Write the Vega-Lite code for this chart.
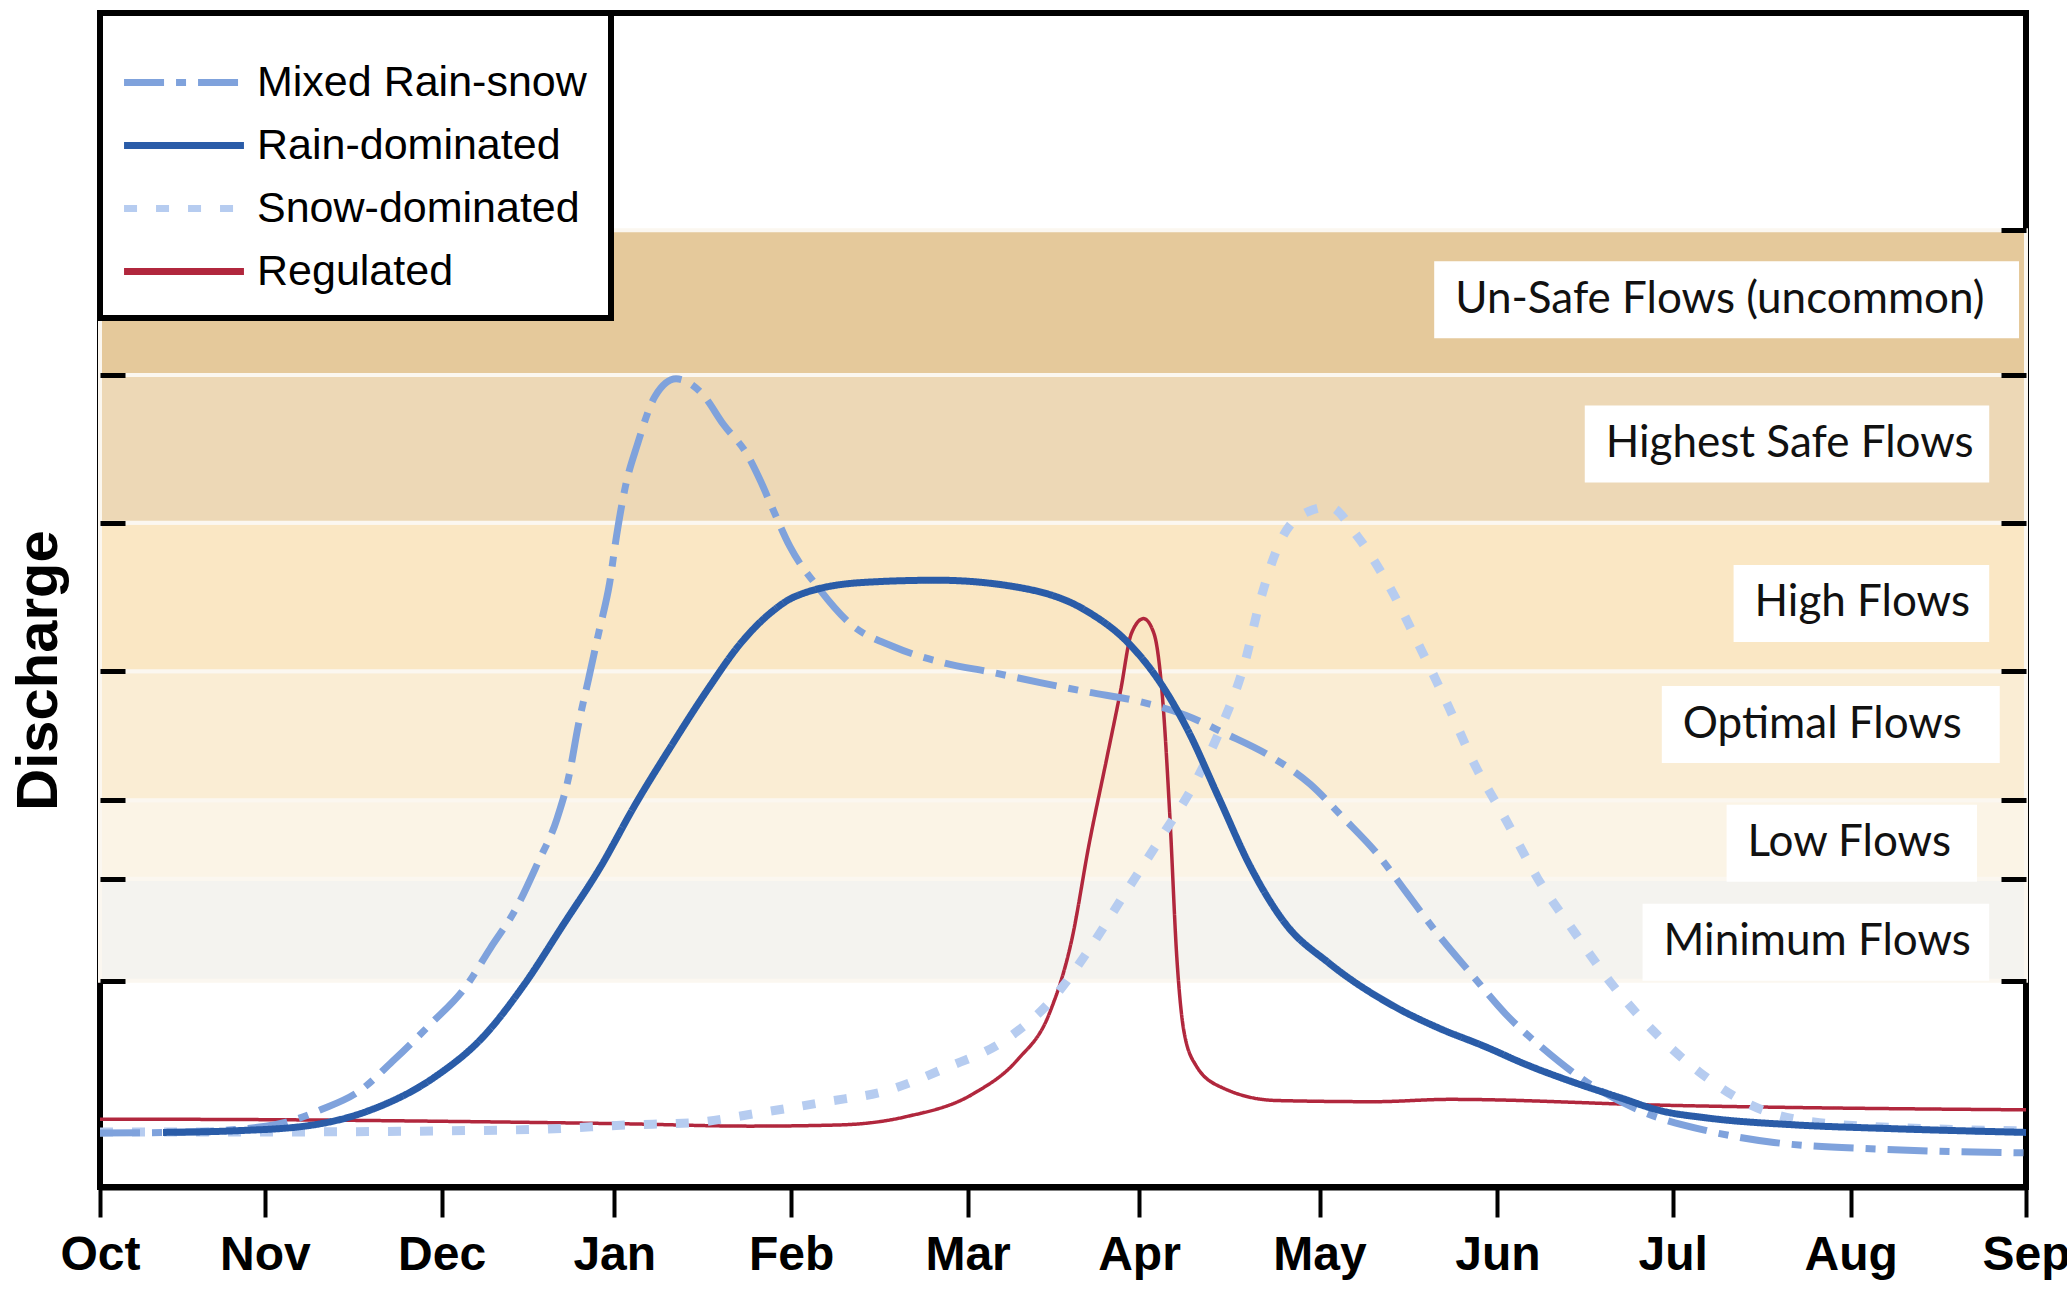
{
  "$schema": "https://vega.github.io/schema/vega-lite/v6.json",
  "width": 1926,
  "height": 1174,
  "autosize": {"type": "none"},
  "padding": {"left": 100, "top": 13, "right": 41, "bottom": 106},
  "background": "white",
  "config": {
    "view": {"stroke": "black", "strokeWidth": 6, "fill": "white"},
    "font": "Liberation Sans",
    "legend": {
      "orient": "none",
      "legendX": 0,
      "legendY": 0,
      "zindex": 3,
      "titleFontSize": 10,
      "titlePadding": 14,
      "symbolType": "M-1.48,0L6.79,0",
      "symbolSize": 841,
      "symbolStrokeWidth": 7,
      "labelFont": "Liberation Sans",
      "labelFontSize": 43,
      "labelColor": "black",
      "labelLimit": 700,
      "labelOffset": 90,
      "rowPadding": 19,
      "padding": 24,
      "strokeColor": "black",
      "strokeWidth": 6,
      "fillColor": "white",
      "cornerRadius": 0
    }
  },
  "datasets": {
    "bands": [
      {"band": "Minimum Flows", "lo": 17.29, "hi": 26.06},
      {"band": "Low Flows", "lo": 26.06, "hi": 32.79},
      {"band": "Optimal Flows", "lo": 32.79, "hi": 43.87},
      {"band": "High Flows", "lo": 43.87, "hi": 56.64},
      {"band": "Highest Safe Flows", "lo": 56.64, "hi": 69.33},
      {"band": "Un-Safe Flows (uncommon)", "lo": 69.33, "hi": 81.76}
    ],
    "labels": [
      {"label": "Un-Safe Flows (uncommon)", "mid": 75.8, "from": 7.62, "to": 10.96},
      {"label": "Highest Safe Flows", "mid": 63.4, "from": 8.48, "to": 10.79},
      {"label": "High Flows", "mid": 49.7, "from": 9.33, "to": 10.79},
      {"label": "Optimal Flows", "mid": 39.3, "from": 8.92, "to": 10.85},
      {"label": "Low Flows", "mid": 29.1, "from": 9.29, "to": 10.72},
      {"label": "Minimum Flows", "mid": 20.6, "from": 8.81, "to": 10.79}
    ],
    "flows": [
      {"series": "Regulated", "month": 0, "discharge": 5.4},
      {"series": "Regulated", "month": 1.0, "discharge": 5.35},
      {"series": "Regulated", "month": 2.04, "discharge": 5.2},
      {"series": "Regulated", "month": 3.0, "discharge": 5.0},
      {"series": "Regulated", "month": 3.71, "discharge": 4.8},
      {"series": "Regulated", "month": 4.22, "discharge": 4.9},
      {"series": "Regulated", "month": 4.6, "discharge": 5.6},
      {"series": "Regulated", "month": 4.99, "discharge": 7.6},
      {"series": "Regulated", "month": 5.24, "discharge": 10.5},
      {"series": "Regulated", "month": 5.42, "discharge": 14.4},
      {"series": "Regulated", "month": 5.55, "discharge": 20.8},
      {"series": "Regulated", "month": 5.65, "discharge": 29.1},
      {"series": "Regulated", "month": 5.75, "discharge": 36.4},
      {"series": "Regulated", "month": 5.83, "discharge": 42.3},
      {"series": "Regulated", "month": 5.89, "discharge": 47.1},
      {"series": "Regulated", "month": 5.96, "discharge": 48.4},
      {"series": "Regulated", "month": 6.02, "discharge": 47.1},
      {"series": "Regulated", "month": 6.07, "discharge": 41.3},
      {"series": "Regulated", "month": 6.11, "discharge": 31.5},
      {"series": "Regulated", "month": 6.15, "discharge": 19.3},
      {"series": "Regulated", "month": 6.19, "discharge": 13.0},
      {"series": "Regulated", "month": 6.26, "discharge": 10.0},
      {"series": "Regulated", "month": 6.41, "discharge": 8.1},
      {"series": "Regulated", "month": 6.72, "discharge": 7.0},
      {"series": "Regulated", "month": 7.28, "discharge": 6.9},
      {"series": "Regulated", "month": 7.71, "discharge": 7.1},
      {"series": "Regulated", "month": 8.92, "discharge": 6.6},
      {"series": "Regulated", "month": 11, "discharge": 6.2},
      {"series": "Snow-dominated", "month": 0, "discharge": 4.3},
      {"series": "Snow-dominated", "month": 1.0, "discharge": 4.3},
      {"series": "Snow-dominated", "month": 2.0, "discharge": 4.4},
      {"series": "Snow-dominated", "month": 2.55, "discharge": 4.55},
      {"series": "Snow-dominated", "month": 3.01, "discharge": 4.9},
      {"series": "Snow-dominated", "month": 3.39, "discharge": 5.1},
      {"series": "Snow-dominated", "month": 3.75, "discharge": 5.9},
      {"series": "Snow-dominated", "month": 4.15, "discharge": 6.9},
      {"series": "Snow-dominated", "month": 4.48, "discharge": 7.8},
      {"series": "Snow-dominated", "month": 4.83, "discharge": 9.8},
      {"series": "Snow-dominated", "month": 5.17, "discharge": 12.2},
      {"series": "Snow-dominated", "month": 5.45, "discharge": 15.9},
      {"series": "Snow-dominated", "month": 5.65, "discharge": 20.0},
      {"series": "Snow-dominated", "month": 5.85, "discharge": 24.7},
      {"series": "Snow-dominated", "month": 6.06, "discharge": 29.6},
      {"series": "Snow-dominated", "month": 6.26, "discharge": 34.5},
      {"series": "Snow-dominated", "month": 6.41, "discharge": 39.3},
      {"series": "Snow-dominated", "month": 6.54, "discharge": 44.7},
      {"series": "Snow-dominated", "month": 6.62, "discharge": 49.6},
      {"series": "Snow-dominated", "month": 6.74, "discharge": 55.0},
      {"series": "Snow-dominated", "month": 6.9, "discharge": 57.6},
      {"series": "Snow-dominated", "month": 7.02, "discharge": 58.0},
      {"series": "Snow-dominated", "month": 7.18, "discharge": 55.5},
      {"series": "Snow-dominated", "month": 7.37, "discharge": 51.0},
      {"series": "Snow-dominated", "month": 7.54, "discharge": 45.9},
      {"series": "Snow-dominated", "month": 7.7, "discharge": 40.9},
      {"series": "Snow-dominated", "month": 7.85, "discharge": 35.9},
      {"series": "Snow-dominated", "month": 8.03, "discharge": 31.1},
      {"series": "Snow-dominated", "month": 8.21, "discharge": 26.1},
      {"series": "Snow-dominated", "month": 8.41, "discharge": 21.7},
      {"series": "Snow-dominated", "month": 8.64, "discharge": 16.9},
      {"series": "Snow-dominated", "month": 8.87, "discharge": 13.0},
      {"series": "Snow-dominated", "month": 9.13, "discharge": 9.5},
      {"series": "Snow-dominated", "month": 9.43, "discharge": 6.6},
      {"series": "Snow-dominated", "month": 9.82, "discharge": 5.1},
      {"series": "Snow-dominated", "month": 10.4, "discharge": 4.6},
      {"series": "Snow-dominated", "month": 11, "discharge": 4.4},
      {"series": "Mixed Rain-snow", "month": 0, "discharge": 4.2},
      {"series": "Mixed Rain-snow", "month": 0.5, "discharge": 4.3},
      {"series": "Mixed Rain-snow", "month": 0.9, "discharge": 4.7},
      {"series": "Mixed Rain-snow", "month": 1.1, "discharge": 5.3},
      {"series": "Mixed Rain-snow", "month": 1.26, "discharge": 6.2},
      {"series": "Mixed Rain-snow", "month": 1.48, "discharge": 7.8},
      {"series": "Mixed Rain-snow", "month": 1.68, "discharge": 10.5},
      {"series": "Mixed Rain-snow", "month": 1.89, "discharge": 13.6},
      {"series": "Mixed Rain-snow", "month": 2.08, "discharge": 16.6},
      {"series": "Mixed Rain-snow", "month": 2.23, "discharge": 20.1},
      {"series": "Mixed Rain-snow", "month": 2.38, "discharge": 23.6},
      {"series": "Mixed Rain-snow", "month": 2.5, "discharge": 27.4},
      {"series": "Mixed Rain-snow", "month": 2.61, "discharge": 31.2},
      {"series": "Mixed Rain-snow", "month": 2.68, "discharge": 35.0},
      {"series": "Mixed Rain-snow", "month": 2.73, "discharge": 39.1},
      {"series": "Mixed Rain-snow", "month": 2.79, "discharge": 43.2},
      {"series": "Mixed Rain-snow", "month": 2.85, "discharge": 47.3},
      {"series": "Mixed Rain-snow", "month": 2.91, "discharge": 51.4},
      {"series": "Mixed Rain-snow", "month": 2.95, "discharge": 55.5},
      {"series": "Mixed Rain-snow", "month": 3.0, "discharge": 59.7},
      {"series": "Mixed Rain-snow", "month": 3.07, "discharge": 63.4},
      {"series": "Mixed Rain-snow", "month": 3.17, "discharge": 67.5},
      {"series": "Mixed Rain-snow", "month": 3.29, "discharge": 69.0},
      {"series": "Mixed Rain-snow", "month": 3.44, "discharge": 67.7},
      {"series": "Mixed Rain-snow", "month": 3.56, "discharge": 65.1},
      {"series": "Mixed Rain-snow", "month": 3.7, "discharge": 62.4},
      {"series": "Mixed Rain-snow", "month": 3.77, "discharge": 60.3},
      {"series": "Mixed Rain-snow", "month": 3.84, "discharge": 57.9},
      {"series": "Mixed Rain-snow", "month": 3.94, "discharge": 54.6},
      {"series": "Mixed Rain-snow", "month": 4.1, "discharge": 51.1},
      {"series": "Mixed Rain-snow", "month": 4.29, "discharge": 47.9},
      {"series": "Mixed Rain-snow", "month": 4.53, "discharge": 46.0},
      {"series": "Mixed Rain-snow", "month": 4.82, "discharge": 44.6},
      {"series": "Mixed Rain-snow", "month": 5.09, "discharge": 43.8},
      {"series": "Mixed Rain-snow", "month": 5.37, "discharge": 42.9},
      {"series": "Mixed Rain-snow", "month": 5.64, "discharge": 42.1},
      {"series": "Mixed Rain-snow", "month": 5.93, "discharge": 41.3},
      {"series": "Mixed Rain-snow", "month": 6.2, "discharge": 40.1},
      {"series": "Mixed Rain-snow", "month": 6.43, "discharge": 38.5},
      {"series": "Mixed Rain-snow", "month": 6.67, "discharge": 36.7},
      {"series": "Mixed Rain-snow", "month": 6.91, "discharge": 34.2},
      {"series": "Mixed Rain-snow", "month": 7.1, "discharge": 31.3},
      {"series": "Mixed Rain-snow", "month": 7.3, "discharge": 28.1},
      {"series": "Mixed Rain-snow", "month": 7.46, "discharge": 24.9},
      {"series": "Mixed Rain-snow", "month": 7.63, "discharge": 21.5},
      {"series": "Mixed Rain-snow", "month": 7.83, "discharge": 17.9},
      {"series": "Mixed Rain-snow", "month": 8.03, "discharge": 14.4},
      {"series": "Mixed Rain-snow", "month": 8.24, "discharge": 11.5},
      {"series": "Mixed Rain-snow", "month": 8.49, "discharge": 8.6},
      {"series": "Mixed Rain-snow", "month": 8.8, "discharge": 6.1},
      {"series": "Mixed Rain-snow", "month": 9.18, "discharge": 4.4},
      {"series": "Mixed Rain-snow", "month": 9.56, "discharge": 3.4},
      {"series": "Mixed Rain-snow", "month": 10.2, "discharge": 2.8},
      {"series": "Mixed Rain-snow", "month": 11, "discharge": 2.5},
      {"series": "Rain-dominated", "month": 0.36, "discharge": 4.26},
      {"series": "Rain-dominated", "month": 0.77, "discharge": 4.4},
      {"series": "Rain-dominated", "month": 1.17, "discharge": 4.8},
      {"series": "Rain-dominated", "month": 1.53, "discharge": 6.1},
      {"series": "Rain-dominated", "month": 1.91, "discharge": 9.0},
      {"series": "Rain-dominated", "month": 2.19, "discharge": 12.5},
      {"series": "Rain-dominated", "month": 2.42, "discharge": 16.9},
      {"series": "Rain-dominated", "month": 2.65, "discharge": 22.2},
      {"series": "Rain-dominated", "month": 2.86, "discharge": 27.1},
      {"series": "Rain-dominated", "month": 3.06, "discharge": 32.5},
      {"series": "Rain-dominated", "month": 3.26, "discharge": 37.4},
      {"series": "Rain-dominated", "month": 3.47, "discharge": 42.3},
      {"series": "Rain-dominated", "month": 3.66, "discharge": 46.3},
      {"series": "Rain-dominated", "month": 3.83, "discharge": 48.9},
      {"series": "Rain-dominated", "month": 3.97, "discharge": 50.3},
      {"series": "Rain-dominated", "month": 4.35, "discharge": 51.5},
      {"series": "Rain-dominated", "month": 4.78, "discharge": 51.7},
      {"series": "Rain-dominated", "month": 5.24, "discharge": 51.1},
      {"series": "Rain-dominated", "month": 5.63, "discharge": 49.1},
      {"series": "Rain-dominated", "month": 5.88, "discharge": 46.2},
      {"series": "Rain-dominated", "month": 6.06, "discharge": 42.8},
      {"series": "Rain-dominated", "month": 6.21, "discharge": 38.9},
      {"series": "Rain-dominated", "month": 6.39, "discharge": 33.0},
      {"series": "Rain-dominated", "month": 6.57, "discharge": 27.1},
      {"series": "Rain-dominated", "month": 6.77, "discharge": 22.2},
      {"series": "Rain-dominated", "month": 7.02, "discharge": 18.8},
      {"series": "Rain-dominated", "month": 7.39, "discharge": 15.1},
      {"series": "Rain-dominated", "month": 7.65, "discharge": 13.2},
      {"series": "Rain-dominated", "month": 7.9, "discharge": 11.7},
      {"series": "Rain-dominated", "month": 8.16, "discharge": 10.0},
      {"series": "Rain-dominated", "month": 8.41, "discharge": 8.6},
      {"series": "Rain-dominated", "month": 8.67, "discharge": 7.3},
      {"series": "Rain-dominated", "month": 8.92, "discharge": 6.1},
      {"series": "Rain-dominated", "month": 9.18, "discharge": 5.5},
      {"series": "Rain-dominated", "month": 9.69, "discharge": 4.9},
      {"series": "Rain-dominated", "month": 10.2, "discharge": 4.6},
      {"series": "Rain-dominated", "month": 11, "discharge": 4.26}
    ]
  },
  "resolve": {"axis": {"y": "independent", "x": "independent"}},
  "layer": [
    {
      "data": {"name": "bands"},
      "mark": {"type": "rect", "stroke": "#FBF7F0", "strokeWidth": 4},
      "encoding": {
        "y": {
          "field": "lo",
          "type": "quantitative",
          "scale": {"domain": [0, 100], "nice": false, "zero": false},
          "axis": {
            "zindex": 1,
            "values": [17.29, 26.06, 32.79, 43.87, 56.64, 69.33, 81.76],
            "labels": false,
            "grid": false,
            "domain": false,
            "tickColor": "black",
            "tickWidth": 5,
            "tickSize": -25,
            "title": "Discharge",
            "titleFont": "Liberation Sans",
            "titleFontWeight": "bold",
            "titleFontSize": 58,
            "titleColor": "black",
            "titleAngle": -90,
            "titleX": -44,
            "titleY": 657,
            "titleBaseline": "alphabetic",
            "titleAlign": "center"
          }
        },
        "y2": {"field": "hi"},
        "fill": {
          "field": "band",
          "type": "nominal",
          "legend": null,
          "scale": {
            "domain": ["Minimum Flows", "Low Flows", "Optimal Flows", "High Flows", "Highest Safe Flows", "Un-Safe Flows (uncommon)"],
            "range": ["#F4F3EF", "#FBF4E6", "#FAEDD4", "#FAE7C4", "#EDD8B6", "#E5C99B"]
          }
        }
      }
    },
    {
      "data": {"name": "labels"},
      "mark": {"type": "bar", "orient": "horizontal", "height": 77, "fill": "white"},
      "encoding": {
        "x": {"field": "from", "type": "quantitative", "axis": null},
        "x2": {"field": "to"},
        "y": {
          "field": "mid",
          "type": "quantitative",
          "axis": {
            "zindex": 1,
            "orient": "right",
            "values": [17.29, 26.06, 32.79, 43.87, 56.64, 69.33, 81.76],
            "labels": false,
            "grid": false,
            "domain": false,
            "tickColor": "black",
            "tickWidth": 5,
            "tickSize": -25,
            "title": null
          }
        }
      }
    },
    {
      "data": {"name": "labels"},
      "mark": {"type": "text", "font": "Lato", "fontSize": 44, "align": "left", "baseline": "middle", "dx": 21, "color": "#111111"},
      "encoding": {
        "x": {"field": "from", "type": "quantitative", "axis": null},
        "y": {"field": "mid", "type": "quantitative", "axis": null},
        "text": {"field": "label"}
      }
    },
    {
      "data": {"name": "flows"},
      "mark": {"type": "line", "interpolate": "monotone"},
      "encoding": {
        "x": {
          "field": "month",
          "type": "quantitative",
          "scale": {"domain": [0, 11], "nice": false, "zero": false},
          "axis": {
            "zindex": 1,
            "orient": "bottom",
            "values": [0, 0.942, 1.951, 2.937, 3.947, 4.955, 5.934, 6.965, 7.981, 8.982, 9.999, 11],
            "labelExpr": "datum.value < 0.5 ? 'Oct' : datum.value < 1.5 ? 'Nov' : datum.value < 2.5 ? 'Dec' : datum.value < 3.5 ? 'Jan' : datum.value < 4.5 ? 'Feb' : datum.value < 5.5 ? 'Mar' : datum.value < 6.5 ? 'Apr' : datum.value < 7.5 ? 'May' : datum.value < 8.5 ? 'Jun' : datum.value < 9.5 ? 'Jul' : datum.value < 10.5 ? 'Aug' : 'Sep'",
            "title": null,
            "grid": false,
            "domainColor": "black",
            "domainWidth": 6,
            "tickColor": "black",
            "tickWidth": 4,
            "tickSize": 30,
            "labelFont": "Liberation Sans",
            "labelFontWeight": "bold",
            "labelFontSize": 48,
            "labelColor": "black",
            "labelPadding": 14,
            "labelFlush": false,
            "labelOverlap": false,
            "labelBound": false
          }
        },
        "y": {"field": "discharge", "type": "quantitative", "axis": null},
        "color": {
          "field": "series",
          "type": "nominal",
          "legend": {"title": " "},
          "scale": {
            "domain": ["Mixed Rain-snow", "Rain-dominated", "Snow-dominated", "Regulated"],
            "range": ["#7FA2DC", "#2A5CA8", "#B6CCF0", "#B1273D"]
          }
        },
        "strokeDash": {
          "field": "series",
          "type": "nominal",
          "legend": {"title": " "},
          "scale": {
            "domain": ["Mixed Rain-snow", "Rain-dominated", "Snow-dominated", "Regulated"],
            "range": [[40, 12, 10, 12], [1, 0], [13, 19], [1, 0]]
          }
        },
        "strokeWidth": {
          "condition": [
            {"test": "datum.series === 'Regulated'", "value": 3.5},
            {"test": "datum.series === 'Snow-dominated'", "value": 9}
          ],
          "value": 7
        }
      }
    }
  ]
}
